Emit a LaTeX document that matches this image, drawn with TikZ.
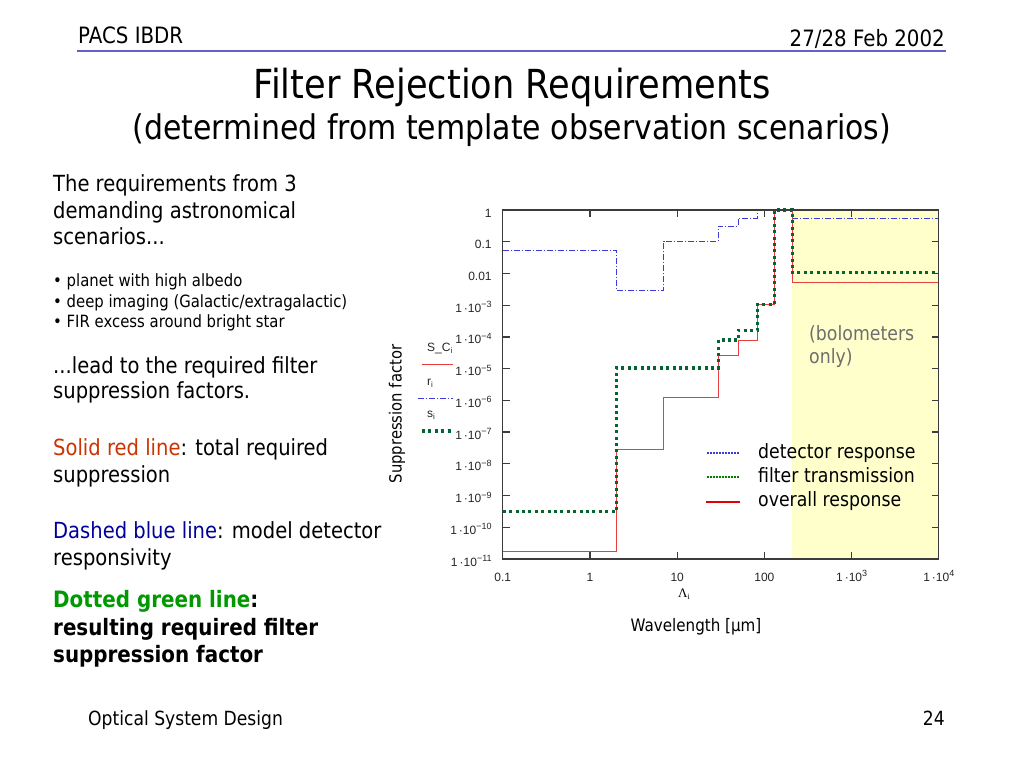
\documentclass[tikz,border=0pt]{standalone}
\usepackage{fontspec}
\setmainfont{DejaVu Sans}[FakeStretch=0.88]
\newfontfamily\plotfont{Liberation Sans}
\newfontfamily\greekfont{Liberation Serif}
\definecolor{hdrline}{RGB}{102,96,196}
\definecolor{yel}{RGB}{255,255,204}
\definecolor{redc}{RGB}{232,64,64}
\definecolor{bluec}{RGB}{60,60,210}
\definecolor{greenc}{RGB}{0,102,51}
\definecolor{txtred}{RGB}{204,51,0}
\definecolor{txtblue}{RGB}{0,0,153}
\definecolor{txtgreen}{RGB}{0,153,0}
\definecolor{framec}{RGB}{60,60,60}
\definecolor{graytxt}{RGB}{110,110,110}
\newcommand\tpow[1]{1\,\textperiodcentered 10\raisebox{4.5pt}{\fontsize{9}{9}\selectfont #1}}
\tikzset{
  hdr/.style={inner sep=0pt, font=\fontsize{22.5}{26}\selectfont},
  foot/.style={inner sep=0pt, font=\fontsize{19.5}{24}\selectfont},
  body/.style={inner sep=0pt, anchor=base west, font=\fontsize{22.2}{26}\selectfont},
  bodyb/.style={inner sep=0pt, anchor=base west, font=\fontsize{22.6}{26}\selectfont\bfseries},
  bul/.style={inner sep=0pt, anchor=base west, font=\fontsize{16.9}{20}\selectfont},
  legtxt/.style={inner sep=0pt, anchor=base west, font=\fontsize{19.7}{22}\selectfont},
  ticklab/.style={inner sep=0pt, font=\plotfont\fontsize{12}{14}\selectfont, text=black!85},
  redline/.style={draw=redc, line width=1pt},
  blueline/.style={draw=bluec, line width=0.9pt, dash pattern=on 6pt off 2pt on 1pt off 2pt},
  greenline/.style={draw=greenc, line width=3.2pt, dash pattern=on 3pt off 3.4pt},
  framestyle/.style={draw=framec, line width=1.3pt},
}
\begin{document}
\begin{tikzpicture}[x=1pt,y=-1pt]
\useasboundingbox (0,0) rectangle (1024,768);
\fill[white] (0,0) rectangle (1024,768);
% header
\node[hdr, anchor=base west] (hdrl) at (78,44) {PACS IBDR};
\node[hdr, anchor=base east] (hdrr) at (945,46) {27/28 Feb 2002};
\coordinate (hl1) at (77,51);
\coordinate (hl2) at (946,51);
\draw[hdrline, line width=2pt] (hl1) -- (hl2);
% title
\node[inner sep=0pt, anchor=base, font=\fontsize{40}{44}\selectfont] (title) at (512,98) {Filter Rejection Requirements};
\node[inner sep=0pt, anchor=base, font=\fontsize{34}{38}\selectfont] (subtitle) at (512,139) {(determined from template observation scenarios)};
% left text
\node[body] (t1) at (53,191) {The requirements from 3};
\node[body] (t2) at (53,218) {demanding astronomical};
\node[body] (t3) at (53,244) {scenarios...};
\node[bul] (b1) at (53,286) {\textbullet\ planet with high albedo};
\node[bul] (b2) at (53,307) {\textbullet\ deep imaging (Galactic/extragalactic)};
\node[bul] (b3) at (53,327) {\textbullet\ FIR excess around bright star};
\node[body] (t4) at (53,373) {...lead to the required filter};
\node[body] (t5) at (53,398) {suppression factors.};
\node[body] (t6) at (53,455) {\textcolor{txtred}{Solid red line}: total required};
\node[body] (t7) at (53,482) {suppression};
\node[body] (t8) at (53,538) {\textcolor{txtblue}{Dashed blue line}: model detector};
\node[body] (t9) at (53,565) {responsivity};
\node[bodyb] (t10) at (53,607) {\textcolor{txtgreen}{Dotted green line}:};
\node[bodyb] (t11) at (53,635) {resulting required filter};
\node[bodyb] (t12) at (53,662) {suppression factor};
% footer
\node[foot, anchor=base west] (foot) at (88,725) {Optical System Design};
\node[foot, anchor=base east] (page) at (945,725) {24};
% plot
\begin{scope}[shift={(590pt,-210pt)}, x=87.2pt, y=31.73pt]
  \fill[yel] (2.322,0) rectangle (4,-11);
  \draw[blueline] (-1,-1.26) -- (0.301,-1.26) -- (0.301,-2.53) -- (0.845,-2.53) -- (0.845,-0.98) -- (1.47,-0.98) -- (1.47,-0.51) -- (1.70,-0.51) -- (1.70,-0.26) -- (1.92,-0.26) -- (1.92,0) -- (2.322,0) -- (2.322,-0.26) -- (4,-0.26);
  \draw[redline] (-1,-10.77) -- (0.301,-10.77) -- (0.301,-7.55) -- (0.845,-7.55) -- (0.845,-5.92) -- (1.47,-5.92) -- (1.47,-4.6) -- (1.70,-4.6) -- (1.70,-4.11) -- (1.92,-4.11) -- (1.92,-2.97) -- (2.118,-2.97) -- (2.118,0) -- (2.322,0) -- (2.322,-2.27) -- (4,-2.27);
  \draw[greenline] (-1,-9.51) -- (0.301,-9.51) -- (0.301,-4.98) -- (1.47,-4.98) -- (1.47,-4.1) -- (1.70,-4.1) -- (1.70,-3.79) -- (1.92,-3.79) -- (1.92,-2.97) -- (2.118,-2.97) -- (2.118,0) -- (2.322,0) -- (2.322,-1.98) -- (4,-1.98);
  \draw[framestyle] (-1,0) rectangle (4,-11);
  \foreach \u in {0,1,2,3} {
    \draw[framestyle] (\u,0) -- ++(0,-7pt);
    \draw[framestyle] (\u,-11) -- ++(0,7pt);
  }
  \foreach \v in {-1,-2,...,-10} {
    \draw[framestyle] (-1,\v) -- ++(7pt,0);
    \draw[framestyle] (4,\v) -- ++(-7pt,0);
  }
  % y tick labels
  \node[ticklab, anchor=base east] (y0) at ([xshift=-11pt,yshift=-7pt]-1,0) {1};
  \node[ticklab, anchor=base east] (y1) at ([xshift=-11pt,yshift=-7pt]-1,-1) {0.1};
  \node[ticklab, anchor=base east] (y2) at ([xshift=-11pt,yshift=-7pt]-1,-2) {0.01};
  \foreach \v in {3,...,11} {
    \node[ticklab, anchor=base east] (y\v) at ([xshift=-11pt,yshift=-7pt]-1,-\v) {\tpow{\textminus\v}};
  }
  % x tick labels
  \node[ticklab, anchor=base] (xm1) at ([yshift=-22pt]-1,-11) {0.1};
  \node[ticklab, anchor=base] (x0) at ([yshift=-22pt]0,-11) {1};
  \node[ticklab, anchor=base] (x1) at ([yshift=-22pt]1,-11) {10};
  \node[ticklab, anchor=base] (x2) at ([yshift=-22pt]2,-11) {100};
  \node[ticklab, anchor=base] (x3) at ([yshift=-22pt]3,-11) {\tpow{3}};
  \node[ticklab, anchor=base] (x4) at ([yshift=-22pt]4,-11) {\tpow{4}};
\end{scope}
\node[inner sep=0pt, anchor=base, font=\greekfont\fontsize{13}{15}\selectfont] (lam) at (684,597) {Λ\raisebox{-2pt}{\fontsize{8}{8}\selectfont i}};
\node[inner sep=0pt, anchor=base, font=\fontsize{17.2}{19}\selectfont] (xlabel) at (696,631) {Wavelength [µm]};
\node[inner sep=0pt, anchor=center, rotate=90, font=\fontsize{16.8}{19}\selectfont] (ylabel) at (397,414) {Suppression factor};
% in-plot legend (left)
\node[ticklab, anchor=base west] (lsc) at (427,351) {S\_C\raisebox{-2pt}{\fontsize{8}{8}\selectfont i}};
\coordinate (lr1) at (422,364); \coordinate (lr2) at (453,364);
\draw[redline] (lr1) -- (lr2);
\node[ticklab, anchor=base west] (lr) at (427,385) {r\raisebox{-2pt}{\fontsize{8}{8}\selectfont i}};
\coordinate (lb1) at (418,398); \coordinate (lb2) at (453,398);
\draw[blueline] (lb1) -- (lb2);
\node[ticklab, anchor=base west] (ls) at (427,417) {s\raisebox{-2pt}{\fontsize{8}{8}\selectfont i}};
\coordinate (lg1) at (422,431); \coordinate (lg2) at (453,431);
\draw[greenline] (lg1) -- (lg2);
% right legend
\coordinate (d1) at (707,453); \coordinate (d2) at (740,453);
\draw[bluec, line width=1.5pt, dash pattern=on 1.5pt off 1.5pt] (d1) -- (d2);
\coordinate (f1) at (707,477); \coordinate (f2) at (740,477);
\draw[green!50!black, line width=1.5pt, dash pattern=on 1.5pt off 1.5pt] (f1) -- (f2);
\coordinate (o1) at (706,502); \coordinate (o2) at (740,502);
\draw[red!90!black, line width=2.2pt] (o1) -- (o2);
\node[legtxt] (ld) at (758,458) {detector response};
\node[legtxt] (lf) at (758,482) {filter transmission};
\node[legtxt] (lo) at (758,506) {overall response};
\node[legtxt, text=graytxt] (bol1) at (809,340) {(bolometers};
\node[legtxt, text=graytxt] (bol2) at (809,363) {only)};
\end{tikzpicture}
\end{document}
